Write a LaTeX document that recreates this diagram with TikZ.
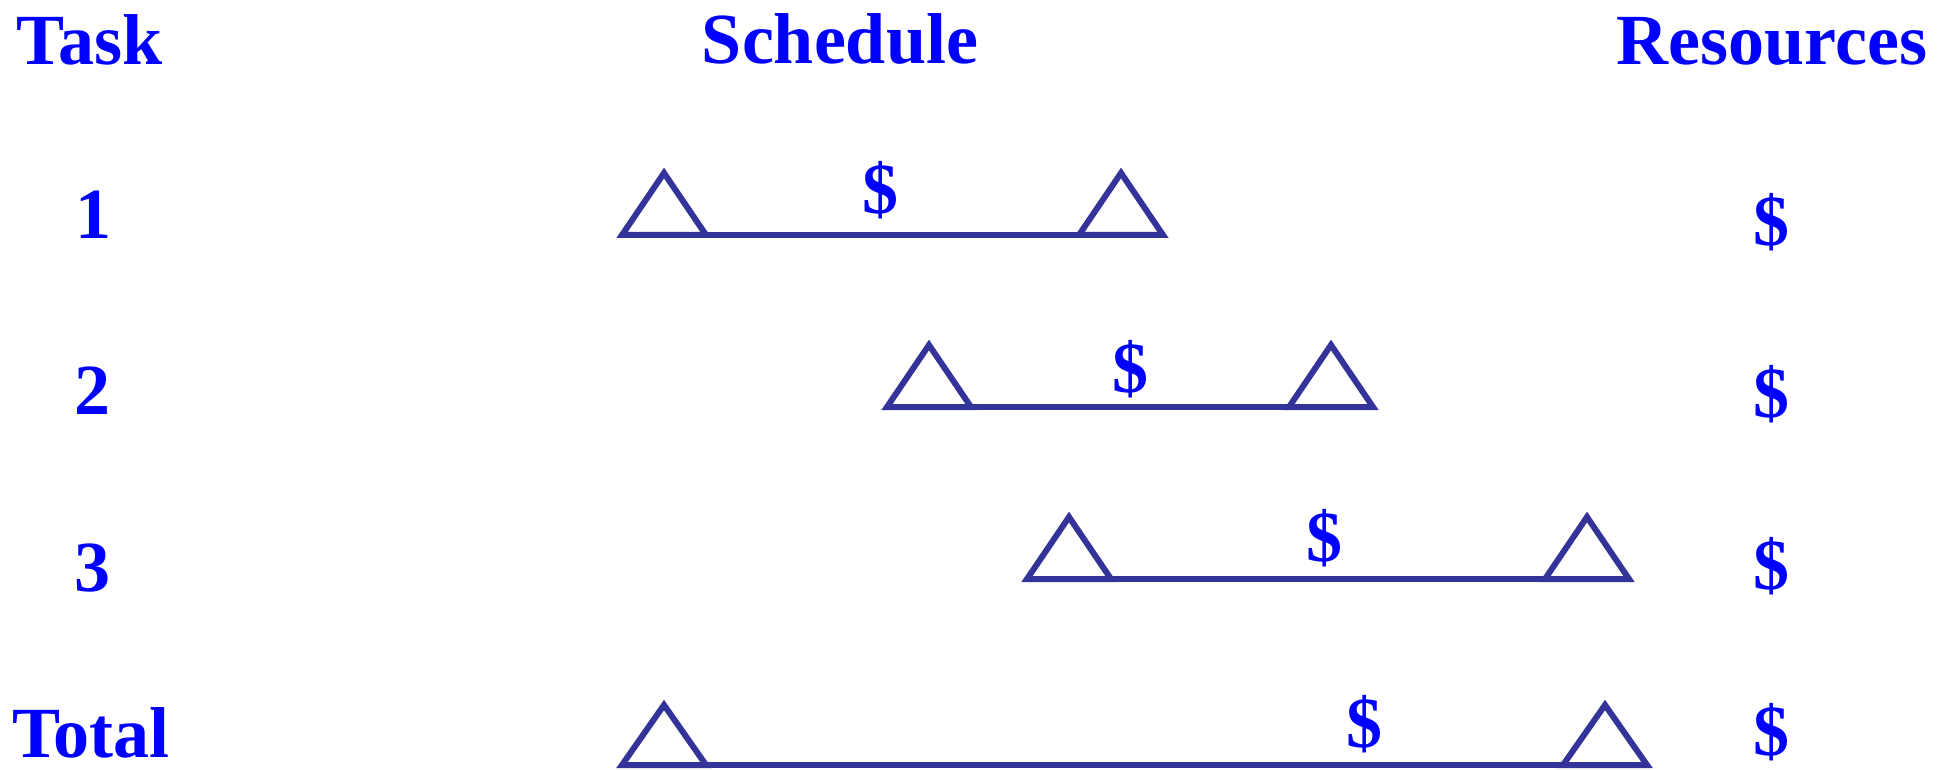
\documentclass[tikz,border=0pt]{standalone}
\usepackage{fontspec}
\setmainfont{Liberation Serif}
\definecolor{txtblue}{RGB}{0,0,255}
\definecolor{barblue}{RGB}{51,51,153}
\begin{document}
\begin{tikzpicture}[x=0.5pt,y=-0.5pt,
  lbl/.style={inner sep=0pt,outer sep=0pt,text=txtblue,font=\fontsize{36}{43}\selectfont\bfseries},
  bar/.style={draw=barblue,line width=3pt,line join=miter,miter limit=10}]
\useasboundingbox (0,0) rectangle (1944,770);
% headers
\node[lbl,anchor=base west] (task) at (17,65) {Task};
\node[lbl,anchor=base] (sched) at (840,64) {Schedule};
\node[lbl,anchor=base east] (res) at (1927,65) {Resources};
% row labels
\node[lbl,anchor=base] (n1) at (93,239) {1};
\node[lbl,anchor=base] (n2) at (92,415) {2};
\node[lbl,anchor=base] (n3) at (92,591) {3};
\node[lbl,anchor=base west] (tot) at (12,757) {Total};
% bar endpoints
\coordinate (a1) at (622,235); \coordinate (b1) at (1163,235);
\coordinate (a2) at (887,407); \coordinate (b2) at (1373,407);
\coordinate (a3) at (1027,579); \coordinate (b3) at (1629,579);
\coordinate (a4) at (622,765); \coordinate (b4) at (1647,765);
% bars with milestone triangles
\foreach \r/\h in {1/62,2/62,3/62,4/60}{
  \draw[bar] (a\r) -- (b\r);
  \draw[bar] (a\r) -- ++(42,-\h) -- ++(42,\h) -- cycle;
  \draw[bar] (b\r) -- ++(-42,-\h) -- ++(-42,\h) -- cycle;
}
% cost labels on bars
\node[lbl] (c1) at (880,190) {\$};
\node[lbl] (c2) at (1130,369) {\$};
\node[lbl] (c3) at (1324,538) {\$};
\node[lbl] (c4) at (1364,724) {\$};
% resources column
\node[lbl] (r1) at (1771,222) {\$};
\node[lbl] (r2) at (1771,394) {\$};
\node[lbl] (r3) at (1771,566) {\$};
\node[lbl] (r4) at (1771,732) {\$};
\end{tikzpicture}
\end{document}
